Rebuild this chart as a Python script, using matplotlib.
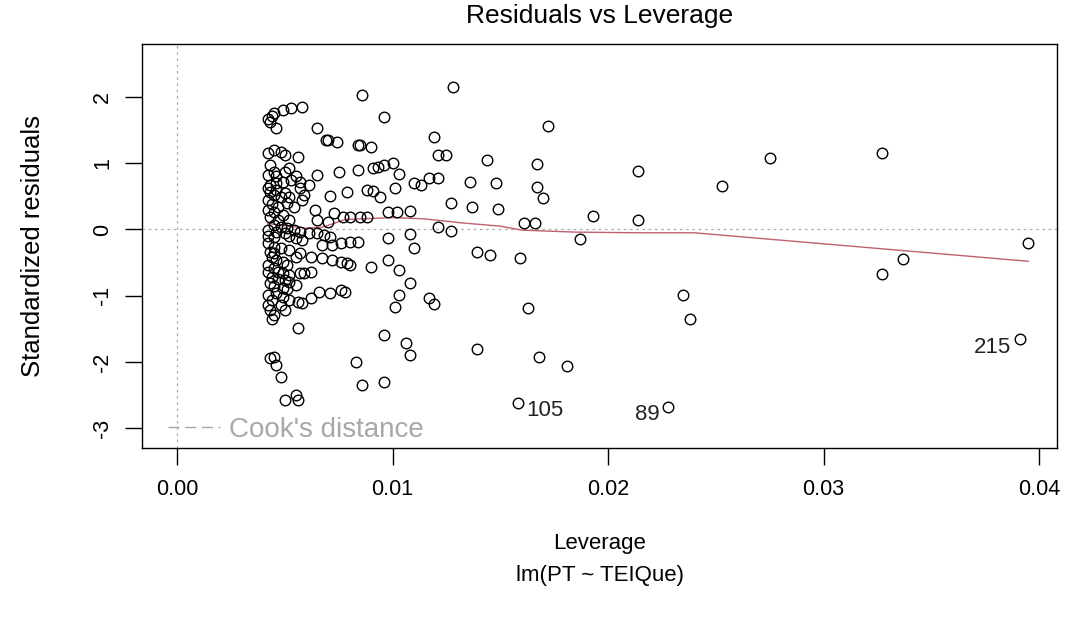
import matplotlib
matplotlib.use("Agg")
import matplotlib.pyplot as plt
from matplotlib.lines import Line2D

plt.rcParams["font.family"] = ["Liberation Sans", "DejaVu Sans"]

# leverage (hat values) and standardized residuals, one entry per observation
leverage = [
    0.0086, 0.0128, 0.0042, 0.0044, 0.0045, 0.0046, 0.0049, 0.0053, 0.0058, 0.0043,
    0.0065, 0.0096, 0.0069, 0.0070, 0.0074, 0.0084, 0.0085, 0.0090, 0.0119, 0.0121,
    0.0125, 0.0144, 0.0172, 0.0167, 0.0214, 0.0253, 0.0275, 0.0327,
    0.0042, 0.0045, 0.0048, 0.0050, 0.0056, 0.0043, 0.0045,
    0.0075, 0.0084, 0.0091, 0.0093, 0.0096, 0.0100, 0.0103,
    0.0043, 0.0046, 0.0049, 0.0053, 0.0057, 0.0061, 0.0065, 0.0071, 0.0079, 0.0088,
    0.0091, 0.0094, 0.0101, 0.0110, 0.0113, 0.0117, 0.0121, 0.0136, 0.0148, 0.0167, 0.0170,
    0.0058, 0.0054, 0.0064, 0.0043, 0.0049, 0.0073, 0.0077, 0.0080, 0.0085, 0.0088,
    0.0098, 0.0102, 0.0108, 0.0127, 0.0137, 0.0149, 0.0193, 0.0214, 0.0161, 0.0166,
    0.0065, 0.0070,
    0.0045, 0.0048, 0.0051, 0.0054, 0.0057, 0.0061, 0.0065, 0.0068, 0.0071, 0.0045,
    0.0121, 0.0127, 0.0108, 0.0187, 0.0098,
    0.0067, 0.0072, 0.0076, 0.0080, 0.0084, 0.0042, 0.0045, 0.0048, 0.0043, 0.0045,
    0.0052, 0.0057, 0.0055, 0.0062, 0.0067, 0.0072, 0.0076, 0.0079, 0.0080, 0.0090,
    0.0042, 0.0045, 0.0047, 0.0049, 0.0052, 0.0057, 0.0059, 0.0062,
    0.0043, 0.0045, 0.0049, 0.0051, 0.0066, 0.0071, 0.0076,
    0.0110, 0.0139, 0.0145, 0.0159, 0.0098, 0.0103, 0.0108,
    0.0046, 0.0049, 0.0052, 0.0056, 0.0058, 0.0062, 0.0078,
    0.0043, 0.0045, 0.0044, 0.0056, 0.0101, 0.0103, 0.0117, 0.0119, 0.0163,
    0.0096, 0.0106, 0.0108, 0.0139, 0.0168, 0.0181, 0.0083, 0.0086, 0.0096,
    0.0235, 0.0238, 0.0337, 0.0327, 0.0395,
    0.0043, 0.0045, 0.0046, 0.0048, 0.0050, 0.0055, 0.0056,
    0.0042, 0.0043, 0.0045, 0.0046, 0.0048, 0.0050, 0.0042, 0.0044, 0.0047, 0.0051,
    0.0052, 0.0042, 0.0045, 0.0047, 0.0052, 0.0042, 0.0046, 0.0050, 0.0052, 0.0055,
    0.0058, 0.0042, 0.0044, 0.0046, 0.0049, 0.0051, 0.0042, 0.0044, 0.0047, 0.0050,
    0.0052, 0.0055, 0.0042, 0.0044, 0.0042, 0.0048, 0.0050, 0.0042, 0.0046, 0.0050,
    0.0052, 0.0055, 0.0057, 0.0059,
    0.0391, 0.0228, 0.0158,
]
std_resid = [
    2.03, 2.15, 1.67, 1.71, 1.76, 1.53, 1.80, 1.83, 1.85, 1.62,
    1.53, 1.70, 1.35, 1.35, 1.32, 1.27, 1.27, 1.24, 1.40, 1.12,
    1.12, 1.05, 1.56, 0.99, 0.88, 0.66, 1.08, 1.15,
    1.15, 1.20, 1.17, 1.12, 1.09, 0.97, 0.87,
    0.87, 0.90, 0.93, 0.94, 0.97, 1.00, 0.84,
    0.67, 0.70, 0.72, 0.75, 0.72, 0.67, 0.82, 0.50, 0.56, 0.60,
    0.58, 0.49, 0.63, 0.70, 0.67, 0.78, 0.78, 0.72, 0.70, 0.64, 0.47,
    0.44, 0.34, 0.29, 0.19, 0.22, 0.25, 0.19, 0.19, 0.19, 0.19,
    0.26, 0.26, 0.28, 0.40, 0.34, 0.31, 0.20, 0.14, 0.10, 0.10,
    0.14, 0.11,
    0.07, 0.04, 0.02, -0.01, -0.04, -0.05, -0.05, -0.08, -0.11, -0.11,
    0.04, -0.02, -0.07, -0.15, -0.13,
    -0.24, -0.24, -0.21, -0.19, -0.19, -0.21, -0.27, -0.28, -0.34, -0.36,
    -0.31, -0.36, -0.42, -0.42, -0.43, -0.46, -0.49, -0.51, -0.54, -0.57,
    -0.54, -0.58, -0.64, -0.66, -0.69, -0.66, -0.66, -0.64,
    -0.81, -0.86, -0.89, -0.90, -0.95, -0.96, -0.92,
    -0.28, -0.34, -0.39, -0.43, -0.46, -0.61, -0.81,
    -0.96, -1.02, -1.07, -1.10, -1.11, -1.04, -0.95,
    -1.22, -1.29, -1.35, -1.49, -1.17, -0.99, -1.04, -1.13, -1.19,
    -1.60, -1.72, -1.90, -1.81, -1.93, -2.06, -2.00, -2.35, -2.31,
    -0.99, -1.35, -0.45, -0.67, -0.21,
    -1.94, -1.93, -2.05, -2.23, -2.58, -2.50, -2.58,
    0.63, 0.57, 0.52, 0.60, 0.49, 0.55, 0.44, 0.38, 0.34, 0.40,
    0.49, 0.29, 0.26, 0.14, 0.14, -0.01, -0.04, -0.05, -0.10, -0.13,
    -0.16, -0.10, -0.42, -0.46, -0.49, -0.54, -0.64, -0.72, -0.75, -0.76,
    -0.80, -0.84, -0.99, -1.07, -1.14, -1.14, -1.22, 0.82, 0.81, 0.87,
    0.93, 0.81, 0.63, 0.52,
    -1.66, -2.68, -2.62,
]

# observations flagged by id (last three entries above)
flag_ids = ["215", "89", "105"]
flag_pos = [len(leverage) - 3, len(leverage) - 2, len(leverage) - 1]
flag_side = ["left", "left", "right"]

# lowess smooth of residuals against leverage
smooth_lev = [0.0042, 0.0060, 0.0068, 0.0078, 0.0100, 0.0115, 0.0132, 0.0150,
              0.0160, 0.0185, 0.0215, 0.0240, 0.0395]
smooth_res = [0.09, 0.02, 0.04, 0.15, 0.18, 0.16, 0.10, 0.05,
              -0.01, -0.04, -0.05, -0.05, -0.48]

x_ticks = [0.00, 0.01, 0.02, 0.03, 0.04]
y_ticks = [-3, -2, -1, 0, 1, 2]

GREY = "#a8a8a8"

fig = plt.figure(figsize=(10.68, 6.21), dpi=100)
ax = fig.add_axes([0.133, 0.2786, 0.857, 0.6504])

ax.axhline(0, color=GREY, linestyle=(0, (2, 3)), linewidth=0.9, zorder=1)
ax.axvline(0, color=GREY, linestyle=(0, (2, 3)), linewidth=0.9, zorder=1)

ax.plot(leverage, std_resid, linestyle="none", marker="o", markersize=7.6,
        markerfacecolor="none", markeredgecolor="black", markeredgewidth=1.0, zorder=3)
ax.plot(smooth_lev, smooth_res, color="#c0606f", linewidth=1.0, zorder=2)

for label, i, side in zip(flag_ids, flag_pos, flag_side):
    dx = -6 if side == "left" else 6
    ax.annotate(label, (leverage[i], std_resid[i]), xytext=(dx, -5.5),
                textcoords="offset points", ha="right" if side == "left" else "left",
                va="center", fontsize=16, color="#222222")

ax.set_xlim(-0.00163, 0.04085)
ax.set_ylim(-3.30, 2.80)
ax.set_xticks(x_ticks)
ax.set_xticklabels([f"{v:.2f}" for v in x_ticks])
ax.set_yticks(y_ticks)
ax.set_yticklabels([str(v) for v in y_ticks], rotation=90, va="center")
ax.tick_params(direction="out", length=12, width=1, labelsize=15.5)
ax.tick_params(axis="x", pad=10)
ax.tick_params(axis="y", pad=9)
for s in ax.spines.values():
    s.set_linewidth(1.0)

ax.set_title("Residuals vs Leverage", fontsize=19, pad=15)
ax.set_ylabel("Standardized residuals", fontsize=18.5, va="center")
ax.yaxis.set_label_coords(-0.119, 0.5)
ax.set_xlabel("Leverage\nlm(PT ~ TEIQue)", fontsize=16, va="center", linespacing=1.65)
ax.xaxis.set_label_coords(0.5, -0.276)

cook = Line2D([], [], color=GREY, linestyle=(0, (8, 4)), linewidth=1.0)
ax.legend([cook], ["Cook's distance"], loc="center left", bbox_to_anchor=(0.028, 0.045),
          frameon=False, fontsize=20, labelcolor=GREY, handlelength=1.9,
          handletextpad=0.3, borderaxespad=0, borderpad=0)

fig.savefig("out.png", dpi=100)
